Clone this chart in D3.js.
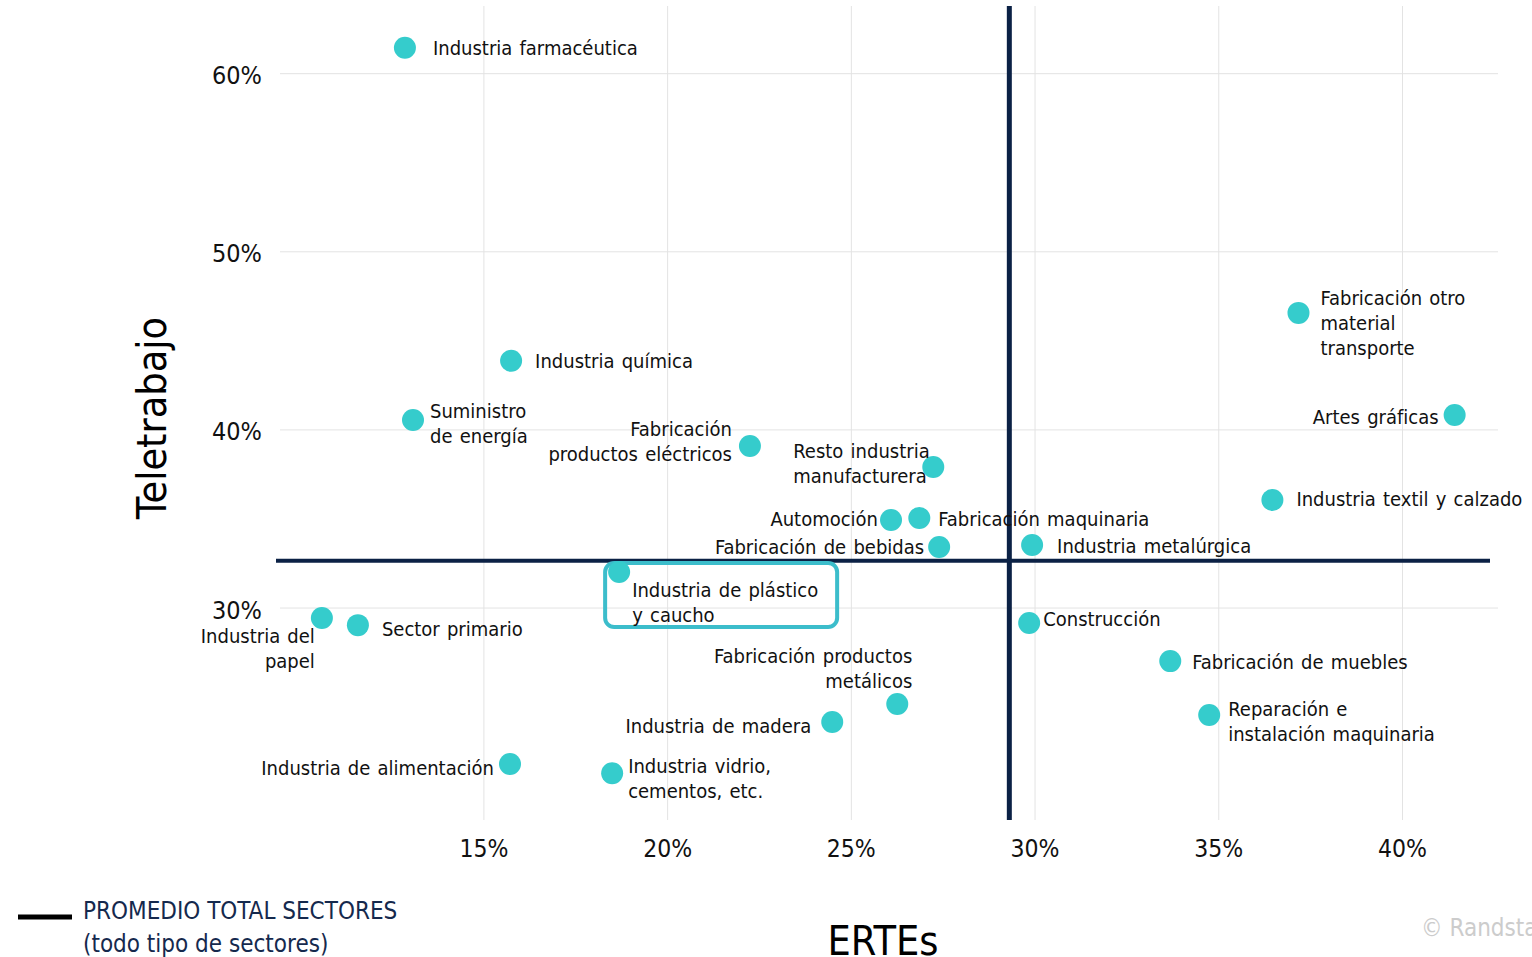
<!DOCTYPE html>
<html lang="es">
<head>
    <meta charset="UTF-8">
    <title>Teletrabajo vs ERTEs</title>
    <style>
        html, body { margin: 0; padding: 0; background: #fff; }
        svg { display: block; }
        text { font-family: "DejaVu Sans Condensed", "DejaVu Sans", sans-serif; }
    </style>
</head>
<body>
    <div id="chart"></div>
    <script src="https://d3js.org/d3.v7.min.js"></script>
    <script>
        // datos: sectores, % ERTEs y % teletrabajo
        const sectores = [
            "Industria farmacéutica", "Industria química", "Suministro|de energía",
            "Fabricación|productos eléctricos", "Resto industria|manufacturera", "Automoción",
            "Fabricación maquinaria", "Fabricación de bebidas", "Industria metalúrgica",
            "Industria de plástico|y caucho", "Industria del|papel", "Sector primario",
            "Construcción", "Fabricación de muebles", "Reparación e|instalación maquinaria",
            "Fabricación productos|metálicos", "Industria de madera", "Industria de alimentación",
            "Industria vidrio,|cementos, etc.", "Fabricación otro|material|transporte",
            "Artes gráficas", "Industria textil y calzado"
        ];
        const ertes = [12.85, 15.74, 13.07, 22.24, 27.23, 26.08, 26.85, 27.39, 29.92, 18.68, 10.59,
            11.57, 29.84, 33.68, 34.74, 26.25, 24.48, 15.71, 18.49, 37.17, 41.42, 36.46];
        const teletrabajo = [61.46, 43.88, 40.56, 39.10, 37.92, 34.94, 35.06, 33.43, 33.54, 32.02, 29.44,
            29.04, 29.16, 27.02, 23.99, 24.61, 23.60, 21.24, 20.73, 46.57, 40.84, 36.07];
        const promedioErtes = 29.3;
        const promedioTeletrabajo = 32.65;
        const xTicks = [15, 20, 25, 30, 35, 40];
        const yTicks = [30, 40, 50, 60];
        const destacado = "Industria de plástico|y caucho";

        // colocación de las etiquetas: [dx, dy primera línea, anchor]
        const etiquetas = [
            [28, 0, "start"], [24, 0, "start"], [17, -9, "start"],
            [-18, -17, "end"], [-140, -16, "start"], [-13, -1, "end"],
            [19, 1, "start"], [-15, 0, "end"], [25, 1, "start"],
            [13, 18, "start"], [-7, 18, "end"], [24, 4, "start"],
            [14, -4, "start"], [22, 1, "start"], [19, -6, "start"],
            [15, -48, "end"], [-21, 4, "end"], [-16, 4, "end"],
            [16, -7, "start"], [22, -15, "start"], [-16, 2, "end"], [24, -1, "start"]
        ];

        const data = sectores.map((s, i) => ({ sector: s, x: ertes[i], y: teletrabajo[i], lab: etiquetas[i] }));

        const width = 1532, height = 957;
        const svg = d3.select("#chart").append("svg")
            .attr("width", width)
            .attr("height", height);

        const x = d3.scaleLinear().domain([9.45, 42.6]).range([280, 1498]);
        const y = d3.scaleLinear().domain([18.1, 63.8]).range([820, 6]);

        // rejilla
        svg.append("g").selectAll("line.v")
            .data(xTicks).join("line")
            .attr("x1", d => x(d)).attr("x2", d => x(d))
            .attr("y1", 6).attr("y2", 820)
            .attr("stroke", "#e3e3e3").attr("stroke-width", 1);
        svg.append("g").selectAll("line.h")
            .data(yTicks).join("line")
            .attr("x1", 280).attr("x2", 1498)
            .attr("y1", d => y(d)).attr("y2", d => y(d))
            .attr("stroke", "#e3e3e3").attr("stroke-width", 1);

        // etiquetas de ejes
        svg.append("g").selectAll("text")
            .data(xTicks).join("text")
            .attr("x", d => x(d)).attr("y", 848)
            .attr("text-anchor", "middle").attr("dominant-baseline", "central")
            .attr("font-size", 24.5).attr("fill", "#111")
            .text(d => d + "%");
        svg.append("g").selectAll("text")
            .data(yTicks).join("text")
            .attr("x", 262).attr("y", d => y(d) + 2)
            .attr("text-anchor", "end").attr("dominant-baseline", "central")
            .attr("font-size", 25).attr("fill", "#111")
            .text(d => d + "%");

        // lineas de promedio
        svg.append("line")
            .attr("x1", x(promedioErtes)).attr("x2", x(promedioErtes))
            .attr("y1", 6).attr("y2", 820)
            .attr("stroke", "#0b2145").attr("stroke-width", 5);
        svg.append("line")
            .attr("x1", 276).attr("x2", 1490)
            .attr("y1", y(promedioTeletrabajo)).attr("y2", y(promedioTeletrabajo))
            .attr("stroke", "#0b2145").attr("stroke-width", 4);

        // recuadro destacado
        const dd = data.find(d => d.sector === destacado);
        svg.append("rect")
            .attr("x", x(dd.x) - 14).attr("y", y(dd.y) - 9)
            .attr("width", 232).attr("height", 64)
            .attr("rx", 9)
            .attr("fill", "none").attr("stroke", "#3cbdcb").attr("stroke-width", 4);

        // puntos
        svg.append("g").selectAll("circle")
            .data(data).join("circle")
            .attr("cx", d => x(d.x)).attr("cy", d => y(d.y))
            .attr("r", 11)
            .attr("fill", "#35cccc");

        // nombres de sectores
        const lbl = svg.append("g").selectAll("text")
            .data(data).join("text")
            .attr("x", d => x(d.x) + d.lab[0])
            .attr("y", d => y(d.y) + d.lab[1])
            .attr("text-anchor", d => d.lab[2])
            .attr("font-size", 20).attr("fill", "#111")
            .attr("word-spacing", 1.5);
        lbl.each(function(d) {
            const lines = d.sector.split("|");
            d3.select(this).selectAll("tspan")
                .data(lines).join("tspan")
                .attr("x", x(d.x) + d.lab[0])
                .attr("dy", (l, i) => i === 0 ? "0.35em" : "25px")
                .text(l => l);
        });

        // titulos de ejes
        svg.append("text")
            .attr("transform", "translate(152,418) rotate(-90)")
            .attr("text-anchor", "middle").attr("dominant-baseline", "central")
            .attr("font-size", 41).attr("fill", "#000")
            .text("Teletrabajo");
        svg.append("text")
            .attr("x", 883).attr("y", 955)
            .attr("text-anchor", "middle")
            .attr("font-size", 41).attr("fill", "#000")
            .text("ERTEs");

        // leyenda
        svg.append("line")
            .attr("x1", 18).attr("x2", 72).attr("y1", 917).attr("y2", 917)
            .attr("stroke", "#000").attr("stroke-width", 5);
        svg.append("text")
            .attr("x", 83).attr("y", 911)
            .attr("dominant-baseline", "central")
            .attr("font-size", 24).attr("fill", "#15294d")
            .text("PROMEDIO TOTAL SECTORES");
        svg.append("text")
            .attr("x", 83).attr("y", 944)
            .attr("dominant-baseline", "central")
            .attr("font-size", 24).attr("fill", "#15294d")
            .text("(todo tipo de sectores)");

        svg.append("text")
            .attr("x", 1421).attr("y", 928)
            .attr("dominant-baseline", "central")
            .attr("font-size", 24).attr("fill", "#cccccc")
            .text("© Randstad");
    </script>
</body>
</html>
